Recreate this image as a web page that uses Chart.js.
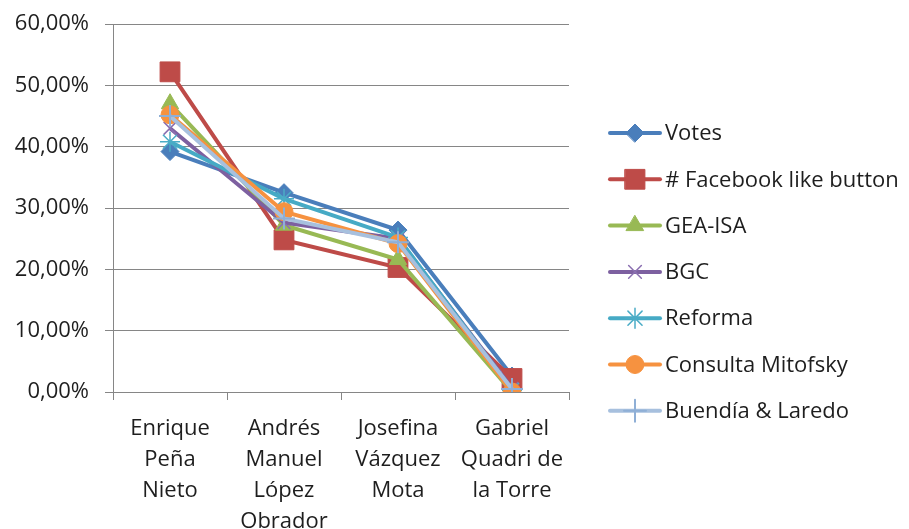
<!DOCTYPE html>
<html>
<head>
<meta charset="utf-8">
<script src="https://cdn.jsdelivr.net/npm/chart.js@4.4.0/dist/chart.umd.min.js"></script>
<style>
  html, body { margin: 0; padding: 0; background: #fff; }
  #wrap { width: 909px; height: 529px; position: relative; }
</style>
</head>
<body>
<div id="wrap"><canvas id="pollChart"></canvas></div>
<script>
// categorias (candidatos), cada uma em linhas
const candidates = [
  ['Enrique', 'Peña', 'Nieto'],
  ['Andrés', 'Manuel', 'López', 'Obrador'],
  ['Josefina', 'Vázquez', 'Mota'],
  ['Gabriel', 'Quadri de', 'la Torre']
];

const seriesNames = ['Votes', '# Facebook like button', 'GEA-ISA', 'BGC', 'Reforma', 'Consulta Mitofsky', 'Buendía & Laredo'];

// valores em %
const votes    = [39.2, 32.5, 26.4, 2.6];
const facebook = [52.2, 24.8, 20.3, 2.2];
const geaIsa   = [47.0, 27.2, 21.6, 0.0];
const bgc      = [43.0, 27.6, 25.0, 0.6];
const reforma  = [40.8, 31.5, 25.2, 0.3];
const mitofsky = [45.2, 29.4, 24.2, 0.0];
const buendia  = [45.0, 28.3, 24.4, 0.5];

const yTicks = [0, 10, 20, 30, 40, 50, 60];

const seriesData = [votes, facebook, geaIsa, bgc, reforma, mitofsky, buendia];

const styles = [
  { line: '#4A7EBB', fill: '#4A7EBB', point: 'rectRot', r: 9, bw: 1 },
  { line: '#BE4B48', fill: '#BE4B48', point: 'rect', r: 14, bw: 1 },
  { line: '#98B954', fill: '#98B954', point: 'triangle', r: 10, bw: 1 },
  { line: '#7D60A0', fill: 'rgba(0,0,0,0)', point: 'crossRot', r: 9, bw: 1.5, pointBorder: '#8A6FB0' },
  { line: '#46AAC5', fill: 'rgba(0,0,0,0)', point: 'star', r: 10, bw: 1.5, pointBorder: '#4BACC6' },
  { line: '#F69240', fill: '#F69240', point: 'circle', r: 9, bw: 1 },
  { line: '#A7C0DE', fill: 'rgba(0,0,0,0)', point: 'cross', r: 11, bw: 2, pointBorder: '#8FAFD6' }
];

const FONT = "'Open Sans', sans-serif";
const TEXT = '#1e1e1e';
const GRID = '#868686';

// legenda desenhada à mão (linha + marcador, como no Excel)
const excelLegend = {
  id: 'excelLegend',
  afterDraw(chart) {
    const ctx = chart.ctx;
    ctx.save();
    chart.data.datasets.forEach((ds, i) => {
      const y = 133 + i * 46.3;
      ctx.strokeStyle = ds.borderColor;
      ctx.lineWidth = 4;
      ctx.lineCap = 'round';
      ctx.beginPath();
      ctx.moveTo(610, y);
      ctx.lineTo(660, y);
      ctx.stroke();
      ctx.fillStyle = ds.pointBackgroundColor;
      ctx.strokeStyle = ds.pointBorderColor;
      ctx.lineWidth = ds.pointBorderWidth;
      Chart.helpers.drawPoint(ctx, {
        pointStyle: ds.pointStyle,
        radius: ds.pointRadius,
        borderWidth: ds.pointBorderWidth,
        rotation: 0
      }, 635, y);
      ctx.fillStyle = TEXT;
      ctx.font = '22px ' + FONT;
      ctx.textBaseline = 'middle';
      ctx.textAlign = 'left';
      ctx.fillText(ds.label, 665, y + 1);
    });
    ctx.restore();
  }
};

const datasets = seriesData.map((vals, i) => ({
  label: seriesNames[i],
  data: vals,
  borderColor: styles[i].line,
  borderWidth: 4,
  pointStyle: styles[i].point,
  pointRadius: styles[i].r,
  pointBackgroundColor: styles[i].fill,
  pointBorderColor: styles[i].pointBorder || styles[i].line,
  pointBorderWidth: styles[i].bw,
  tension: 0,
  fill: false,
  order: seriesData.length - i
}));

new Chart(document.getElementById('pollChart'), {
  type: 'line',
  data: { labels: candidates, datasets: datasets },
  options: {
    responsive: true,
    maintainAspectRatio: false,
    animation: false,
    layout: { padding: { top: 24, right: 340, left: 0, bottom: 0 } },
    plugins: {
      legend: { display: false },
      tooltip: { enabled: false }
    },
    scales: {
      x: {
        offset: true,
        grid: { display: true, drawOnChartArea: false, offset: true, color: GRID, tickLength: 8, lineWidth: 1 },
        border: { color: GRID, width: 1 },
        ticks: {
          color: TEXT,
          font: { family: FONT, size: 22, lineHeight: '31px' },
          padding: 13,
          maxRotation: 0,
          autoSkip: false
        },
        afterFit(scale) { scale.height = 137; }
      },
      y: {
        min: 0,
        max: 60,
        afterBuildTicks(scale) { scale.ticks = yTicks.map(v => ({ value: v })); },
        grid: { color: GRID, tickLength: 8, lineWidth: 1 },
        border: { color: GRID, width: 1 },
        ticks: {
          color: TEXT,
          font: { family: FONT, size: 22 },
          padding: 16,
          callback: v => v.toFixed(2).replace('.', ',') + '%'
        },
        afterFit(scale) {
          scale.width = 113;
          scale.paddingTop = 0;
          scale.paddingBottom = 0;
        }
      }
    }
  },
  plugins: [excelLegend]
});
</script>
</body>
</html>
